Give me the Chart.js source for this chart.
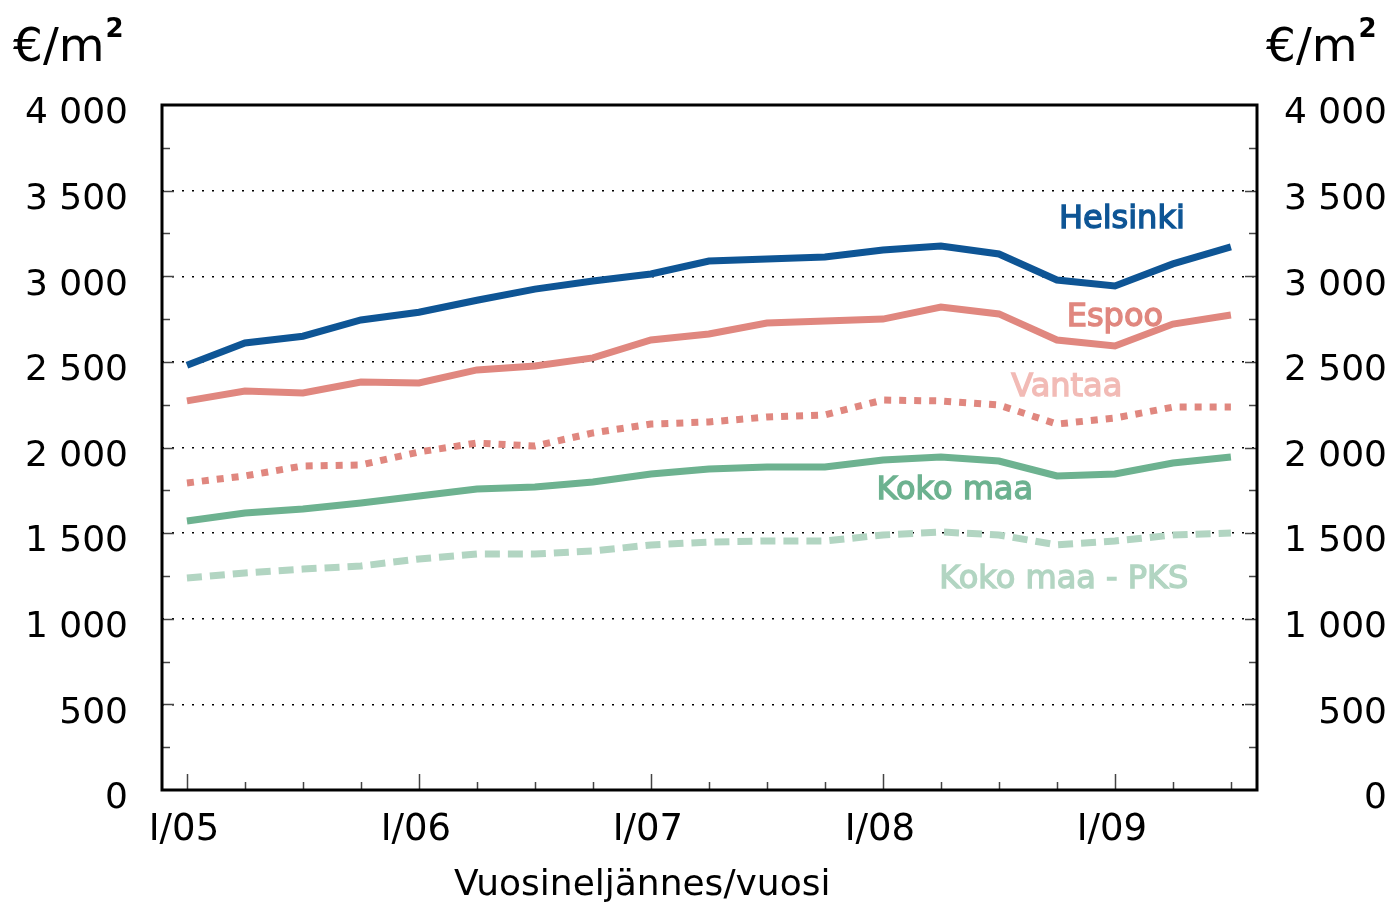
<!DOCTYPE html>
<html lang="fi">
<head>
<meta charset="UTF-8">
<title>Asuntojen neliöhinnat</title>
<script src="https://cdn.jsdelivr.net/npm/chart.js"></script>
<style>
  body {
    margin: 0;
    padding: 0;
    background: #fff;
  }
  .chart-box {
    width: 1392px;
    height: 906px;
  }
</style>
</head>
<body>
<div class="chart-box">
  <canvas id="price-chart" width="1392" height="906"></canvas>
</div>
<script>
  // quarters I/05 .. III/09
  const quarters = ['I/05', 'II/05', 'III/05', 'IV/05', 'I/06', 'II/06', 'III/06', 'IV/06',
    'I/07', 'II/07', 'III/07', 'IV/07', 'I/08', 'II/08', 'III/08', 'IV/08', 'I/09', 'II/09', 'III/09'];

  const helsinki = [2480, 2610, 2650, 2745, 2790, 2860, 2925, 2972, 3013, 3089, 3101, 3112,
    3153, 3177, 3130, 2978, 2943, 3072, 3171];
  const espoo = [2272, 2330, 2318, 2382, 2377, 2453, 2476, 2523, 2628, 2663, 2727, 2739,
    2750, 2820, 2780, 2628, 2593, 2721, 2774];
  const vantaa = [1793, 1834, 1892, 1898, 1974, 2026, 2009, 2085, 2137, 2149, 2178, 2190,
    2277, 2272, 2248, 2137, 2172, 2236, 2236];
  const kokoMaa = [1571, 1618, 1641, 1676, 1717, 1758, 1769, 1799, 1845, 1874, 1886, 1886,
    1927, 1945, 1921, 1834, 1845, 1909, 1945];
  const kokoMaaPks = [1238, 1267, 1290, 1308, 1349, 1378, 1378, 1396, 1431, 1448, 1454, 1454,
    1489, 1507, 1489, 1431, 1454, 1489, 1501];

  const yTicks = [0, 500, 1000, 1500, 2000, 2500, 3000, 3500, 4000];

  const FONT = 'DejaVu Sans, Verdana, sans-serif';

  function pts(arr) {
    return arr.map((v, i) => ({ x: i, y: v }));
  }

  function fmt(v) {
    if (v < 1000) return String(v);
    return Math.floor(v / 1000) + ' ' + String(v % 1000).padStart(3, '0');
  }

  // text labels next to the lines, anchored in data coordinates
  const lineLabels = [
    { text: 'Helsinki', x: 16.12, y: 3330, color: '#0e5595' },
    { text: 'Espoo', x: 16.0, y: 2756, color: '#e0877f' },
    { text: 'Vantaa', x: 15.17, y: 2347, color: '#f2bbb6' },
    { text: 'Koko maa', x: 13.24, y: 1746, color: '#6db290' },
    { text: 'Koko maa - PKS', x: 15.12, y: 1226, color: '#b2d5c2' }
  ];

  const framePlugin = {
    id: 'frame',
    afterDatasetsDraw(chart) {
      const ctx = chart.ctx;
      const a = chart.chartArea;
      const xs = chart.scales.x;
      const ys = chart.scales.y;

      ctx.save();
      // tick marks inside the plot
      ctx.strokeStyle = '#444';
      ctx.lineWidth = 1.5;
      ctx.beginPath();
      for (let v = 250; v < 4000; v += 250) {
        const y = Math.round(ys.getPixelForValue(v)) + 0.5;
        const len = v % 500 === 0 ? 12 : 8;
        ctx.moveTo(a.left, y); ctx.lineTo(a.left + len, y);
        ctx.moveTo(a.right, y); ctx.lineTo(a.right - len, y);
      }
      for (let i = 0; i < quarters.length; i++) {
        const x = Math.round(xs.getPixelForValue(i)) + 0.5;
        const len = i % 4 === 0 ? 16 : 8;
        ctx.moveTo(x, a.bottom); ctx.lineTo(x, a.bottom - len);
      }
      ctx.stroke();

      // frame
      ctx.strokeStyle = '#000';
      ctx.lineWidth = 3;
      ctx.strokeRect(a.left, a.top, a.right - a.left, a.bottom - a.top);

      // line labels
      ctx.font = '32px ' + FONT;
      ctx.textAlign = 'center';
      ctx.textBaseline = 'middle';
      lineLabels.forEach(l => {
        const px = xs.getPixelForValue(l.x);
        const py = ys.getPixelForValue(l.y);
        ctx.fillStyle = l.color;
        ctx.strokeStyle = l.color;
        ctx.lineWidth = 1.4;
        ctx.fillText(l.text, px, py);
        ctx.strokeText(l.text, px, py);
      });

      // unit titles
      function unit(x) {
        ctx.fillStyle = '#000';
        ctx.textAlign = 'left';
        ctx.textBaseline = 'alphabetic';
        ctx.font = '47px ' + FONT;
        ctx.fillText('€/m', x, 61);
        const w = ctx.measureText('€/m').width;
        ctx.font = 'bold 26px ' + FONT;
        ctx.fillText('2', x + w + 1, 37);
      }
      unit(13);
      unit(1266);

      // x axis title
      ctx.font = '36px ' + FONT;
      ctx.textAlign = 'center';
      ctx.textBaseline = 'middle';
      ctx.fillStyle = '#000';
      ctx.fillText('Vuosineljännes/vuosi', xs.getPixelForValue(7.85), 886);
      ctx.restore();
    }
  };

  const ctx = document.getElementById('price-chart').getContext('2d');
  const chart = new Chart(ctx, {
    type: 'line',
    data: {
      datasets: [{
        label: 'Koko maa - PKS',
        data: pts(kokoMaaPks),
        borderColor: '#b2d5c2',
        borderWidth: 7,
        borderDash: [15, 8],
        borderCapStyle: 'butt'
      }, {
        label: 'Koko maa',
        data: pts(kokoMaa),
        borderColor: '#6db290',
        borderWidth: 7
      }, {
        label: 'Vantaa',
        data: pts(vantaa),
        borderColor: '#e0877f',
        borderWidth: 7,
        borderDash: [7, 8],
        borderCapStyle: 'butt'
      }, {
        label: 'Espoo',
        data: pts(espoo),
        borderColor: '#e0877f',
        borderWidth: 7
      }, {
        label: 'Helsinki',
        data: pts(helsinki),
        borderColor: '#0e5595',
        borderWidth: 7
      }]
    },
    options: {
      responsive: false,
      animation: false,
      devicePixelRatio: 1,
      layout: { padding: { top: 105, right: 5, left: 0, bottom: 0 } },
      elements: {
        point: { radius: 0 },
        line: { tension: 0, fill: false, borderJoinStyle: 'miter' }
      },
      plugins: {
        legend: { display: false },
        tooltip: { enabled: false }
      },
      scales: {
        x: {
          type: 'linear',
          min: -0.43,
          max: 18.45,
          afterBuildTicks: s => { s.ticks = quarters.map((q, i) => ({ value: i })); },
          afterFit: s => { s.height = 116; },
          grid: { display: false, drawTicks: false },
          border: { display: false },
          ticks: {
            autoSkip: false,
            maxRotation: 0,
            padding: 18,
            labelOffset: -3,
            color: '#000',
            font: { family: FONT, size: 37 },
            callback: v => (v % 4 === 0 ? quarters[v] : '')
          }
        },
        y: {
          position: 'left',
          min: 0,
          max: 4000,
          afterBuildTicks: s => { s.ticks = yTicks.map(v => ({ value: v })); },
          afterFit: s => { s.width = 162; },
          grid: {
            drawTicks: false,
            lineWidth: 1.5,
            color: c => (c.tick && (c.tick.value === 0 || c.tick.value === 4000)) ? 'rgba(0,0,0,0)' : '#000'
          },
          border: { display: false, dash: [2, 8] },
          ticks: {
            padding: 34,
            labelOffset: 9,
            color: '#000',
            font: { family: FONT, size: 36 },
            callback: v => fmt(v)
          }
        },
        y2: {
          position: 'right',
          min: 0,
          max: 4000,
          afterBuildTicks: s => { s.ticks = yTicks.map(v => ({ value: v })); },
          afterFit: s => { s.width = 130; },
          grid: { display: false, drawTicks: false },
          border: { display: false },
          ticks: {
            crossAlign: 'far',
            labelOffset: 9,
            color: '#000',
            font: { family: FONT, size: 36 },
            callback: v => fmt(v)
          }
        }
      }
    },
    plugins: [framePlugin]
  });
</script>
</body>
</html>
